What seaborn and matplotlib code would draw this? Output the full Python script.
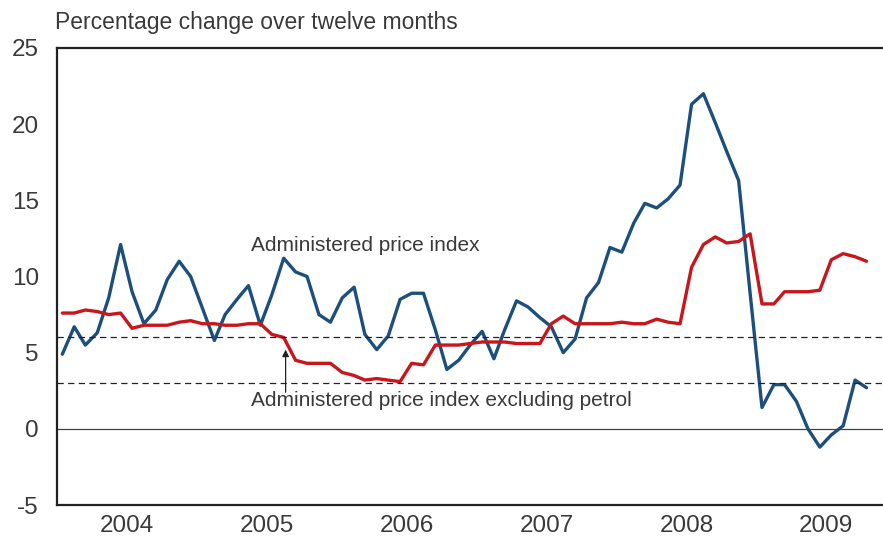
import numpy as np
import pandas as pd
import matplotlib
matplotlib.use("Agg")
import matplotlib.pyplot as plt
import matplotlib.dates as mdates
import seaborn as sns

# monthly observations, Jan 2004 - Oct 2009
months = pd.date_range("2004-01-01", periods=70, freq="MS") + pd.Timedelta(days=14)

admin_price = [4.9, 6.7, 5.5, 6.3, 8.6, 12.1, 9.0, 6.9, 7.8, 9.8, 11.0, 10.0,
               7.9, 5.8, 7.5, 8.5, 9.4, 6.8, 8.8, 11.2, 10.3, 10.0, 7.5, 7.0,
               8.6, 9.3, 6.2, 5.2, 6.1, 8.5, 8.9, 8.9, 6.5, 3.9, 4.5, 5.5,
               6.4, 4.6, 6.5, 8.4, 8.0, 7.3, 6.7, 5.0, 5.9, 8.6, 9.6, 11.9,
               11.6, 13.5, 14.8, 14.5, 15.1, 16.0, 21.3, 22.0, 20.1, 18.2, 16.3, 8.9,
               1.4, 2.9, 2.9, 1.8, 0.0, -1.2, -0.4, 0.2, 3.2, 2.7]

admin_ex_petrol = [7.6, 7.6, 7.8, 7.7, 7.5, 7.6, 6.6, 6.8, 6.8, 6.8, 7.0, 7.1,
                   6.9, 6.9, 6.8, 6.8, 6.9, 6.9, 6.2, 6.0, 4.5, 4.3, 4.3, 4.3,
                   3.7, 3.5, 3.2, 3.3, 3.2, 3.1, 4.3, 4.2, 5.5, 5.5, 5.5, 5.6,
                   5.7, 5.7, 5.7, 5.6, 5.6, 5.6, 6.9, 7.4, 6.9, 6.9, 6.9, 6.9,
                   7.0, 6.9, 6.9, 7.2, 7.0, 6.9, 10.6, 12.1, 12.6, 12.2, 12.3, 12.8,
                   8.2, 8.2, 9.0, 9.0, 9.0, 9.1, 11.1, 11.5, 11.3, 11.0]

ref_lines = [6, 3]
years = [2004, 2005, 2006, 2007, 2008, 2009]

df = pd.DataFrame({"date": months,
                   "Administered price index": admin_price,
                   "Administered price index excluding petrol": admin_ex_petrol})
long = df.melt(id_vars="date", var_name="series", value_name="value")

sns.set_style("white")
plt.rcParams["font.family"] = ["Liberation Sans", "DejaVu Sans"]
txt = "#3a3a3a"

fig = plt.figure(figsize=(8.83, 5.36), dpi=100)
ax = fig.add_axes([57 / 883, 31 / 536, 826 / 883, 457 / 536])

sns.lineplot(data=long, x="date", y="value", hue="series",
             palette=["#1d4f7c", "#c8161d"], linewidth=2.4, legend=False, ax=ax)

for v in ref_lines:
    ax.axhline(v, color="#222222", linewidth=0.9, dashes=(5, 3.5))
ax.axhline(0, color="#444444", linewidth=0.9)

ax.set_ylim(-5, 25)
ax.set_xlim(pd.Timestamp("2004-01-01"), pd.Timestamp("2009-11-27"))
ax.set_yticks(range(-5, 26, 5))
ax.set_yticklabels([str(v) for v in range(-5, 26, 5)])
ax.set_xticks([pd.Timestamp(f"{y}-01-01") for y in years[1:]])
ax.set_xticklabels([])
ax.set_xticks([pd.Timestamp(f"{y}-07-02") for y in years], minor=True)
ax.set_xticklabels([str(y) for y in years], minor=True)
ax.tick_params(axis="x", which="major", direction="in", length=14, width=1.5, color="#222222")
ax.tick_params(axis="x", which="minor", length=0, pad=7, labelsize=17.5, labelcolor=txt)
ax.tick_params(axis="y", direction="in", length=14, width=1.5, color="#222222",
               pad=13, labelsize=17.5, labelcolor=txt)
ax.set_xlabel("")
ax.set_ylabel("")

for side in ["left", "top", "bottom"]:
    ax.spines[side].set_visible(True)
    ax.spines[side].set_color("#222222")
    ax.spines[side].set_linewidth(1.6)
ax.spines["right"].set_visible(False)

fig.text(55 / 883, 1 - 22 / 536, "Percentage change over twelve months",
         fontsize=16.5, color=txt, va="center", ha="left")

ax.text(pd.Timestamp("2005-05-22"), 11.7, "Administered price index",
        fontsize=15, color=txt, ha="left", va="baseline")
ax.text(pd.Timestamp("2005-05-22"), 1.5, "Administered price index excluding petrol",
        fontsize=15, color=txt, ha="left", va="baseline")
ax.annotate("", xy=(pd.Timestamp("2005-08-20"), 5.2), xytext=(pd.Timestamp("2005-08-20"), 2.4),
            arrowprops=dict(arrowstyle="-|>", color="#222222", lw=0.9, mutation_scale=10,
                            shrinkA=0, shrinkB=0))

fig.savefig("out.png", dpi=100)
